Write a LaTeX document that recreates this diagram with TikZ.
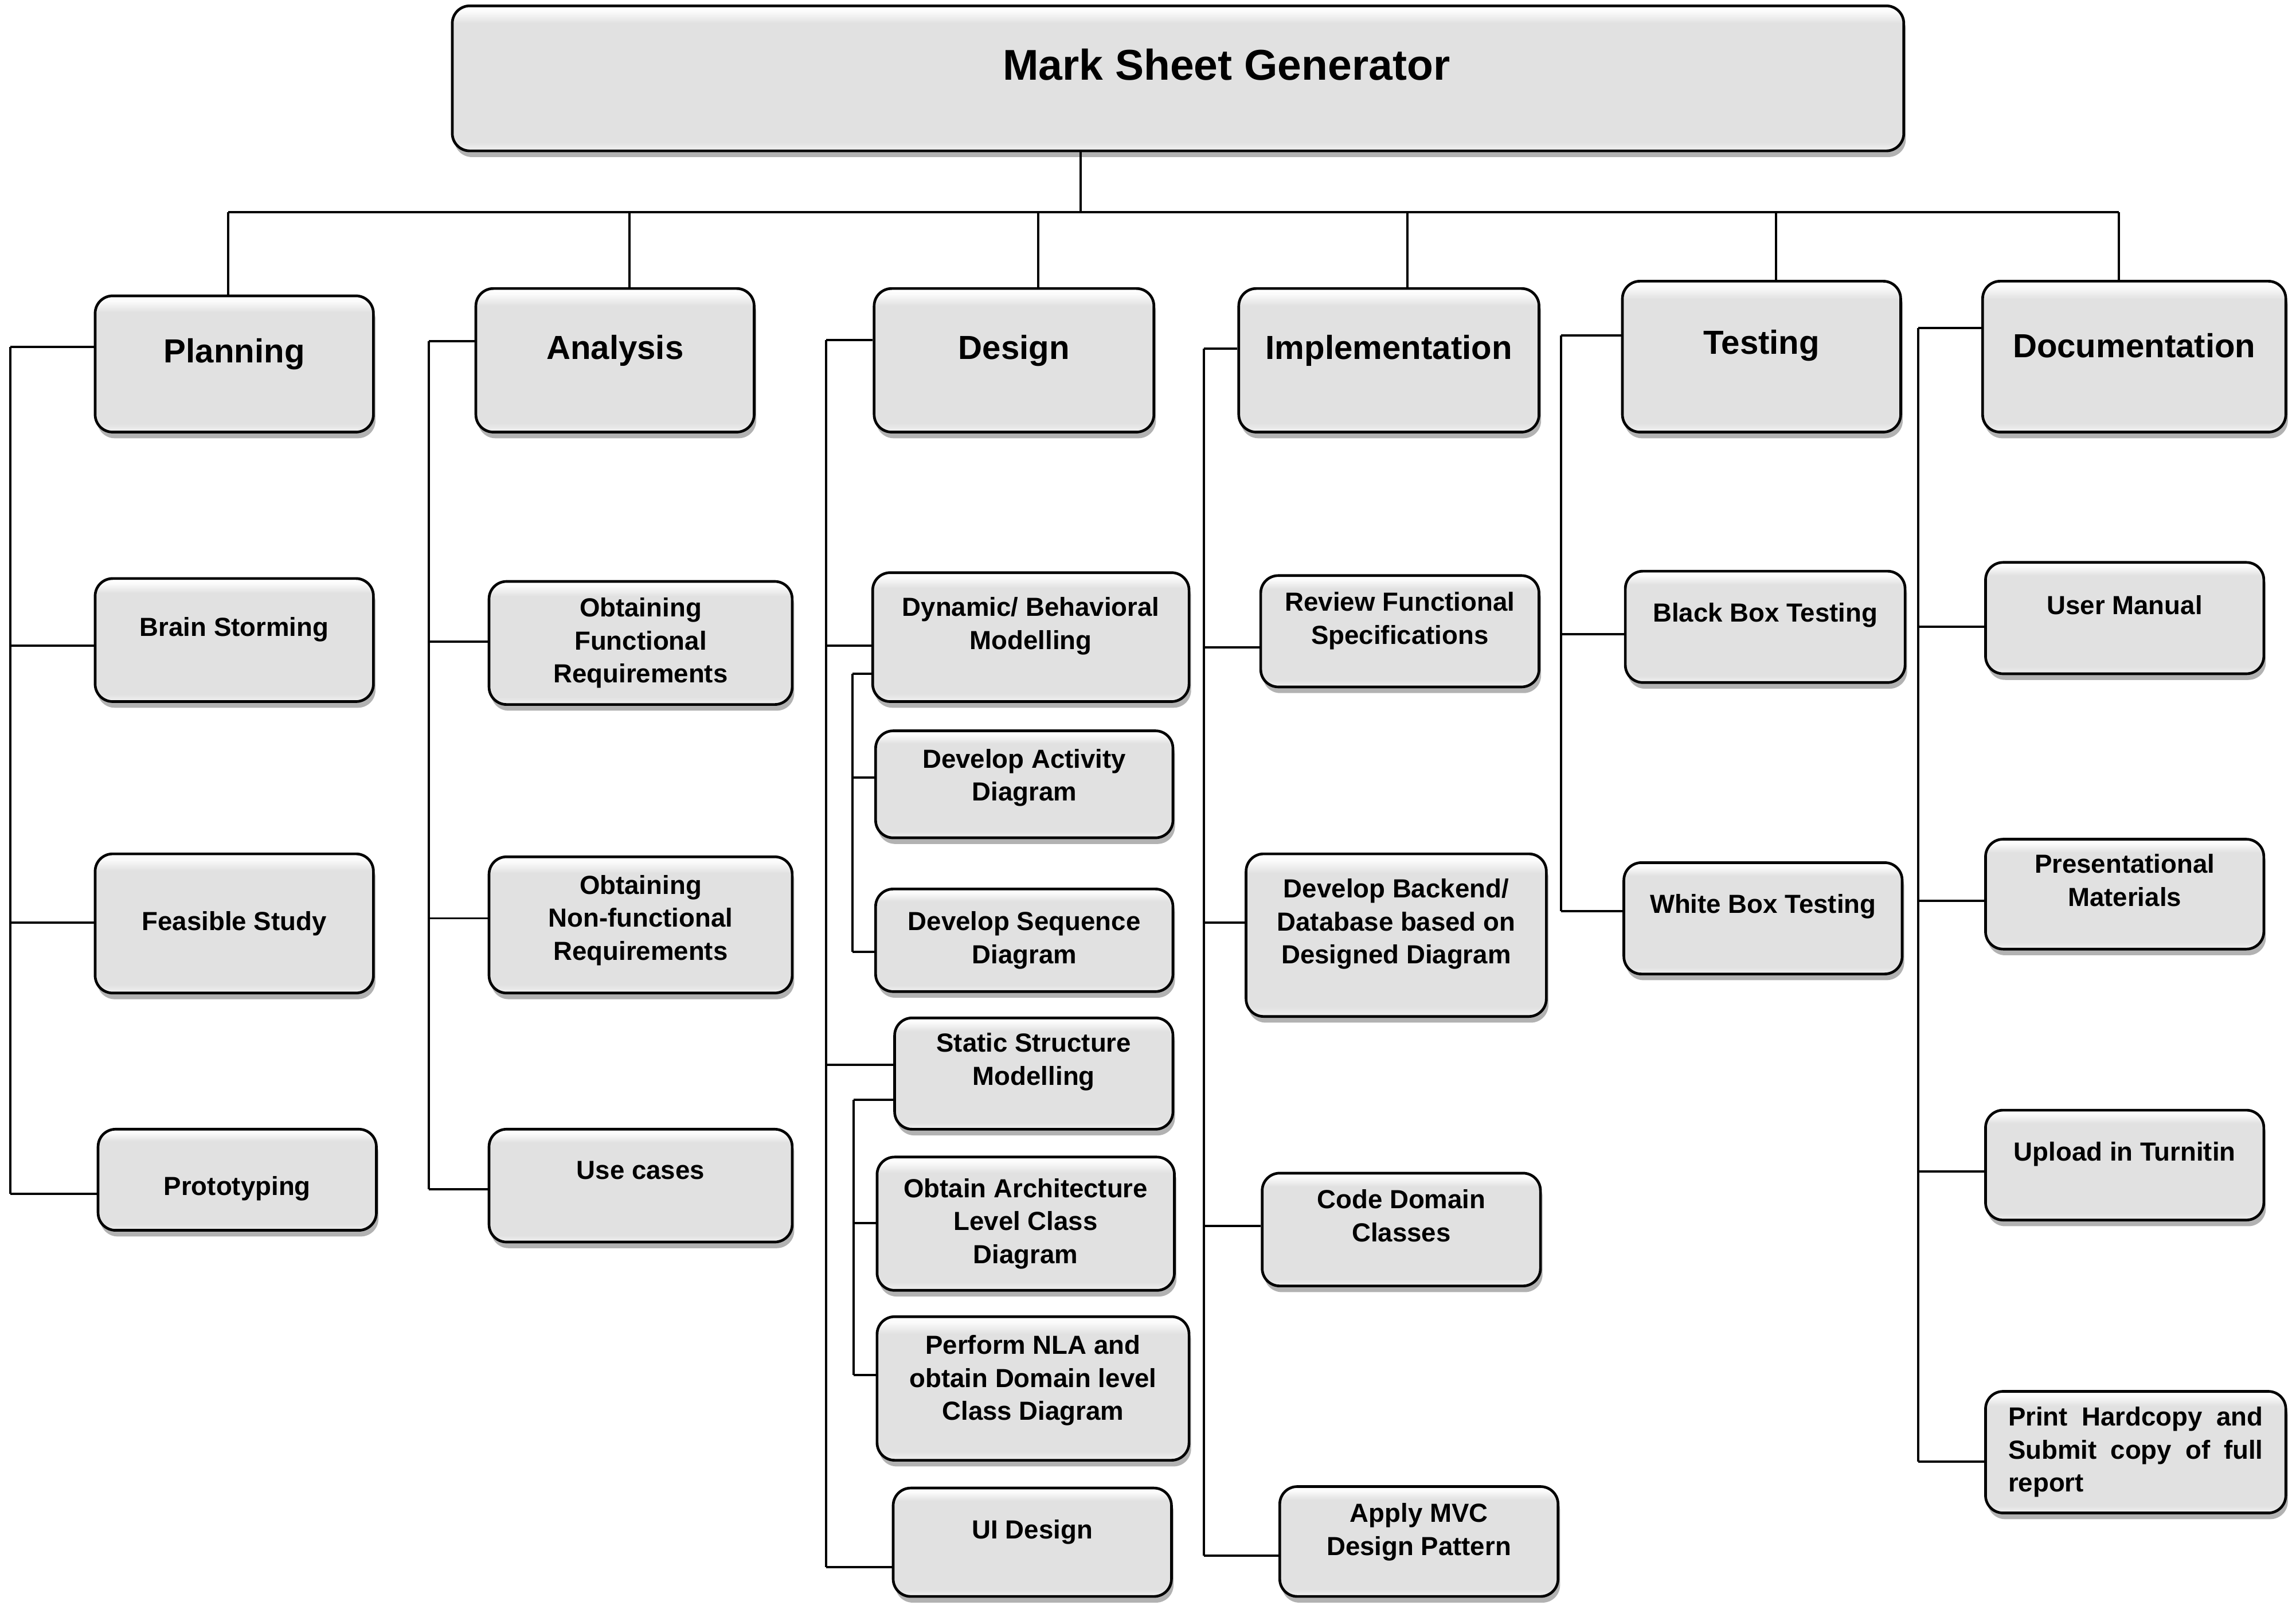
\documentclass[tikz,border=0pt]{standalone}
\usepackage{fontspec}
\setmainfont{Liberation Sans}
\usetikzlibrary{shadows}

\definecolor{boxgray}{HTML}{E1E1E1}
\pgfdeclareverticalshading{bevel}{100bp}{color(0bp)=(boxgray); color(25bp)=(boxgray!45!white); color(28bp)=(boxgray); color(69bp)=(boxgray); color(73bp)=(white!85!boxgray); color(75bp)=(white); color(100bp)=(white)}

\begin{document}
\begin{tikzpicture}[
    x=0.025cm, y=-0.025cm,
    every path/.style={line width=1.1pt},
    box/.style={draw, line width=1.3pt, rounded corners=8.5pt, shade, shading=bevel,
      drop shadow={shadow xshift=1pt, shadow yshift=-3pt, opacity=0.3, fill=black},
      inner sep=3pt, align=center},
    topbox/.style={box, font=\fontsize{20.9pt}{25pt}\selectfont\bfseries},
    phase/.style={box, font=\fontsize{16.2pt}{20pt}\selectfont\bfseries},
    task/.style={box, font=\fontsize{12.7pt}{16pt}\selectfont\bfseries},
    lift/.style={execute at end node={\rule[-#1]{0pt}{0pt}}},
    sink/.style={execute at begin node={\rule{0pt}{#1}}},
    push/.style={execute at begin node={\hspace*{#1}}}
  ]
  \useasboundingbox (0,0) rectangle (1568,1101.3);

  \node[topbox, minimum width=24.775cm, minimum height=2.475cm, lift=13.5pt, push=47pt] (msg) at (804.5,53.5) {Mark Sheet Generator};

  % phases
  \node[phase, minimum width=4.75cm, minimum height=2.325cm, lift=13pt] (plan) at (160,248.5) {Planning};
  \node[phase, minimum width=4.75cm, minimum height=2.45cm, lift=13pt] (anal) at (420,246) {Analysis};
  \node[phase, minimum width=4.775cm, minimum height=2.45cm, lift=13pt] (design) at (692.5,246) {Design};
  \node[phase, minimum width=5.125cm, minimum height=2.45cm, lift=13pt] (impl) at (948.5,246) {Implementation};
  \node[phase, minimum width=4.75cm, minimum height=2.575cm, lift=14pt] (test) at (1203,243.5) {Testing};
  \node[phase, minimum width=5.175cm, minimum height=2.575cm, lift=11pt] (doc) at (1457.5,243.5) {Documentation};

  % planning
  \node[task, minimum width=4.75cm, minimum height=2.1cm, lift=12.7pt] (brain) at (160,437) {Brain Storming};
  \node[task, minimum width=4.75cm, minimum height=2.375cm] (feas) at (160,630.5) {Feasible Study};
  \node[task, minimum width=4.75cm, minimum height=1.725cm, sink=18pt] (proto) at (162,805.5) {Prototyping};

  % analysis
  \node[task, minimum width=5.175cm, minimum height=2.1cm] (func) at (437.5,439) {Obtaining\\Functional\\Requirements};
  \node[task, minimum width=5.175cm, minimum height=2.325cm, lift=7pt] (nonfunc) at (437.5,631.5) {Obtaining\\Non-functional\\Requirements};
  \node[task, minimum width=5.175cm, minimum height=1.925cm, lift=15pt] (usecase) at (437.5,809.5) {Use cases};

  % design
  \node[task, minimum width=5.4cm, minimum height=2.2cm, lift=13.5pt] (dyn) at (704,435) {Dynamic/ Behavioral\\Modelling};
  \node[task, minimum width=5.075cm, minimum height=1.825cm, lift=9pt] (activity) at (699.5,535.5) {Develop Activity\\Diagram};
  \node[task, minimum width=5.075cm, minimum height=1.75cm] (sequence) at (699.5,642) {Develop Sequence\\Diagram};
  \node[task, minimum width=4.75cm, minimum height=1.9cm, lift=14pt] (static) at (706,733) {Static Structure\\Modelling};
  \node[task, minimum width=5.075cm, minimum height=2.275cm] (arch) at (700.5,835.5) {Obtain Architecture\\Level Class\\Diagram};
  \node[task, minimum width=5.325cm, minimum height=2.45cm, lift=10.5pt] (nla) at (705.5,948) {Perform NLA and\\obtain Domain level\\Class Diagram};
  \node[task, minimum width=4.75cm, minimum height=1.85cm, lift=12.7pt] (ui) at (705,1053) {UI Design};

  % implementation
  \node[task, minimum width=4.75cm, minimum height=1.9cm, lift=12.7pt] (review) at (956,431) {Review Functional\\Specifications};
  \node[task, minimum width=5.125cm, minimum height=2.775cm, lift=13.5pt] (backend) at (953.5,638.5) {Develop Backend/\\Database based on\\Designed Diagram};
  \node[task, minimum width=4.75cm, minimum height=1.925cm, lift=13.5pt] (codedom) at (957,839.5) {Code Domain\\Classes};
  \node[task, minimum width=4.75cm, minimum height=1.875cm, lift=12pt] (mvc) at (969,1052.5) {Apply MVC\\Design Pattern};

  % testing
  \node[task, minimum width=4.775cm, minimum height=1.9cm, lift=14pt] (black) at (1205.5,428) {Black Box Testing};
  \node[task, minimum width=4.75cm, minimum height=1.9cm, lift=14pt] (white) at (1204,627) {White Box Testing};

  % documentation
  \node[task, minimum width=4.75cm, minimum height=1.9cm, lift=12.7pt] (manual) at (1451,422) {User Manual};
  \node[task, minimum width=4.75cm, minimum height=1.875cm, lift=13.5pt] (present) at (1451,610.5) {Presentational\\Materials};
  \node[task, minimum width=4.75cm, minimum height=1.875cm, lift=13.5pt] (turnitin) at (1451,795.5) {Upload in Turnitin};
  \node[task, minimum width=5.125cm, minimum height=2.075cm, text width=4.35cm, align=justify] (print) at (1458.5,991.5) {Print Hardcopy and Submit copy of full report};

  % top bus
  \coordinate (bus) at (738,145);
  \coordinate (busl) at (156,145);
  \coordinate (busr) at (1447,145);
  \draw (msg.south -| bus) -- (bus);
  \draw (busl) -- (busr);
  \foreach \x/\n in {156/plan, 430/anal, 709/design, 961/impl, 1213/test, 1447/doc}
    {\coordinate (t-\n) at (\x,145); \draw (t-\n) -- (t-\n |- \n.north);}

  % column spines
  \foreach \y/\n in {237/plan, 441/brain, 630/feas, 815/proto}
    {\coordinate (s-\n) at (7,\y); \draw (s-\n) -- (s-\n -| \n.west);}
  \draw (s-plan) -- (s-proto);

  \foreach \y/\n in {233/anal, 438/func, 627/nonfunc, 812/usecase}
    {\coordinate (s-\n) at (293,\y); \draw (s-\n) -- (s-\n -| \n.west);}
  \draw (s-anal) -- (s-usecase);

  \foreach \y/\n in {232/design, 441/dyn, 727/static, 1070/ui}
    {\coordinate (s-\n) at (564,\y); \draw (s-\n) -- (s-\n -| \n.west);}
  \draw (s-design) -- (s-ui);

  \foreach \y/\n in {460/dyn, 531/activity, 650/sequence}
    {\coordinate (u-\n) at (582,\y); \draw (u-\n) -- (u-\n -| \n.west);}
  \draw (u-dyn) -- (u-sequence);

  \foreach \y/\n in {751/static, 835/arch, 939/nla}
    {\coordinate (v-\n) at (583,\y); \draw (v-\n) -- (v-\n -| \n.west);}
  \draw (v-static) -- (v-nla);

  \foreach \y/\n in {238/impl, 442/review, 630/backend, 837/codedom, 1062/mvc}
    {\coordinate (s-\n) at (822,\y); \draw (s-\n) -- (s-\n -| \n.west);}
  \draw (s-impl) -- (s-mvc);

  \foreach \y/\n in {229/test, 433/black, 622/white}
    {\coordinate (s-\n) at (1066,\y); \draw (s-\n) -- (s-\n -| \n.west);}
  \draw (s-test) -- (s-white);

  \foreach \y/\n in {224/doc, 428/manual, 615/present, 800/turnitin, 998/print}
    {\coordinate (s-\n) at (1310,\y); \draw (s-\n) -- (s-\n -| \n.west);}
  \draw (s-doc) -- (s-print);
\end{tikzpicture}
\end{document}
